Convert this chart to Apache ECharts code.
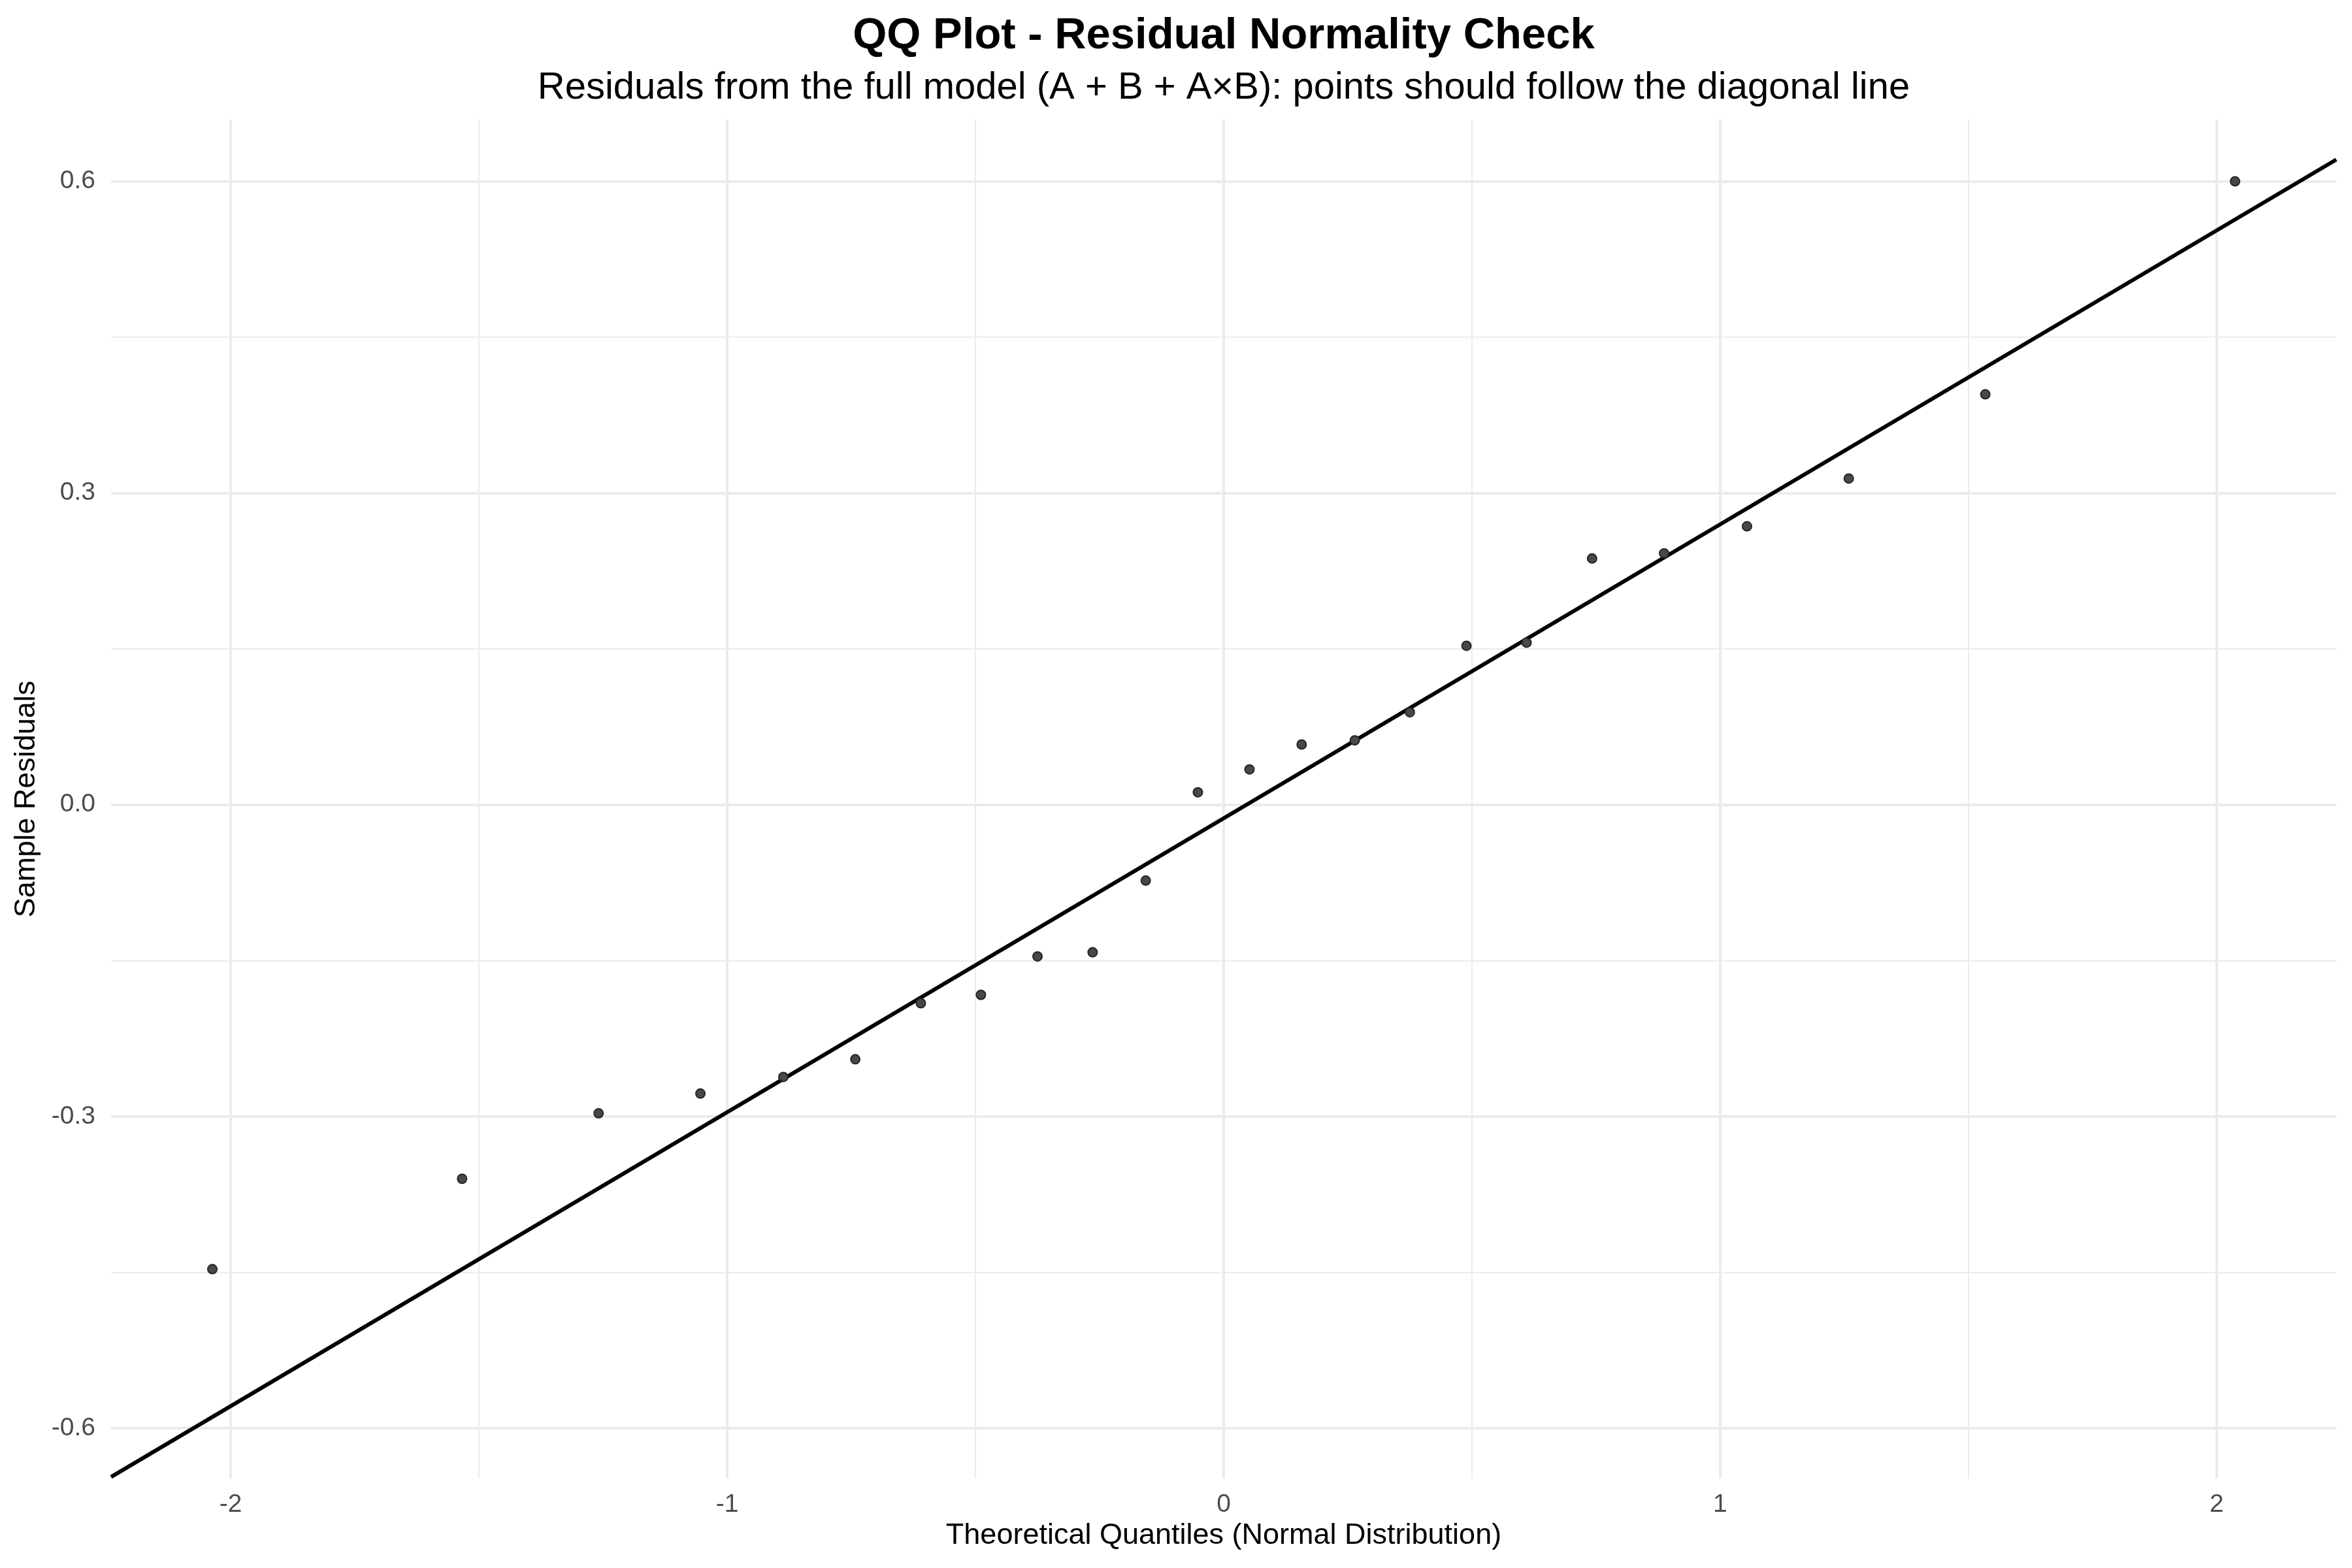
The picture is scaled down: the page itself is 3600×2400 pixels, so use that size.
<!DOCTYPE html>
<html>
<head>
<meta charset="utf-8">
<title>QQ Plot - Residual Normality Check</title>
<script src="https://cdn.jsdelivr.net/npm/echarts@6.0.0/dist/echarts.min.js"></script>
<style>
  html, body { margin: 0; padding: 0; background: #fff; }
  #main { width: 3600px; height: 2400px; }
</style>
</head>
<body>
<div id="main"></div>
<script>
// theoretical normal quantiles (x) and sorted residuals (y)
const theoretical = [-2.037, -1.534, -1.259, -1.054, -0.887, -0.742, -0.610, -0.489,
  -0.375, -0.264, -0.157, -0.052, 0.052, 0.157, 0.264, 0.375,
  0.489, 0.610, 0.742, 0.887, 1.054, 1.259, 1.534, 2.037];
const residuals = [-0.447, -0.360, -0.297, -0.278, -0.262, -0.245, -0.191, -0.183,
  -0.146, -0.142, -0.073, 0.012, 0.034, 0.058, 0.062, 0.089,
  0.153, 0.156, 0.237, 0.242, 0.268, 0.314, 0.395, 0.600];

// reference line end points (spans the whole panel)
const lineX = [-2.241, 2.241];
const lineY = [-0.647, 0.621];

// axis extents and tick / grid positions
const xRange = [-2.241, 2.241];
const yRange = [-0.6485, 0.6595];
const xTicks = [-2, -1, 0, 1, 2];
const xMinor = [-1.5, -0.5, 0.5, 1.5];
const yTicks = [-0.6, -0.3, 0, 0.3, 0.6];
const yMinor = [-0.45, -0.15, 0.15, 0.45];

const FONT = '"Liberation Sans", Arial, Helvetica, sans-serif';
const GRID_COLOR = '#EBEBEB';

let myChart = echarts.init(document.getElementById('main'));

// grid lines as mark lines so they sit on the exact tick values
let gridLines = [];
xTicks.forEach(v => gridLines.push({ xAxis: v, lineStyle: { width: 4 } }));
xMinor.forEach(v => gridLines.push({ xAxis: v, lineStyle: { width: 2 } }));
yTicks.forEach(v => gridLines.push({ yAxis: v, lineStyle: { width: 4 } }));
yMinor.forEach(v => gridLines.push({ yAxis: v, lineStyle: { width: 2 } }));

let points = theoretical.map((x, i) => [x, residuals[i]]);
let refLine = lineX.map((x, i) => [x, lineY[i]]);

let option = {
  backgroundColor: '#fff',
  animation: false,
  title: [{
    text: 'QQ Plot - Residual Normality Check',
    left: 1873,
    top: 22,
    textAlign: 'center',
    padding: 0,
    textStyle: { fontFamily: FONT, fontSize: 67, fontWeight: 'bold', color: '#000' }
  }, {
    text: 'Residuals from the full model (A + B + A×B): points should follow the diagonal line',
    left: 1873,
    top: 106,
    textAlign: 'center',
    padding: 0,
    textStyle: { fontFamily: FONT, fontSize: 58, fontWeight: 'normal', color: '#000' }
  }],
  grid: {
    left: 170,
    right: 24,
    top: 183,
    bottom: 137,
    containLabel: false,
    outerBoundsMode: 'none'
  },
  xAxis: {
    type: 'value',
    min: xRange[0],
    max: xRange[1],
    name: 'Theoretical Quantiles (Normal Distribution)',
    nameLocation: 'middle',
    nameGap: 64,
    nameTextStyle: { fontFamily: FONT, fontSize: 45, color: '#000' },
    axisLine: { show: false },
    axisTick: { show: false, customValues: xTicks },
    splitLine: { show: false },
    axisLabel: {
      customValues: xTicks,
      margin: 21,
      fontFamily: FONT,
      fontSize: 39,
      color: '#4D4D4D',
      formatter: v => String(v)
    }
  },
  yAxis: {
    type: 'value',
    min: yRange[0],
    max: yRange[1],
    name: 'Sample Residuals',
    nameLocation: 'middle',
    nameGap: 107,
    nameTextStyle: { fontFamily: FONT, fontSize: 45, color: '#000' },
    axisLine: { show: false },
    axisTick: { show: false, customValues: yTicks },
    splitLine: { show: false },
    axisLabel: {
      customValues: yTicks,
      margin: 24,
      fontFamily: FONT,
      fontSize: 39,
      color: '#4D4D4D',
      formatter: v => v.toFixed(1)
    }
  },
  series: [{
    name: 'QQ line',
    type: 'line',
    data: refLine,
    symbol: 'none',
    z: 2,
    lineStyle: { color: '#000', width: 6 },
    markLine: {
      silent: true,
      symbol: 'none',
      z: 0,
      label: { show: false },
      lineStyle: { color: GRID_COLOR, type: 'solid' },
      emphasis: { disabled: true },
      data: gridLines
    }
  }, {
    name: 'Residuals',
    type: 'scatter',
    data: points,
    symbol: 'circle',
    symbolSize: 14,
    z: 3,
    itemStyle: {
      color: '#484848',
      borderColor: '#262626',
      borderWidth: 2,
      opacity: 1
    }
  }]
};

myChart.setOption(option);
</script>
</body>
</html>
